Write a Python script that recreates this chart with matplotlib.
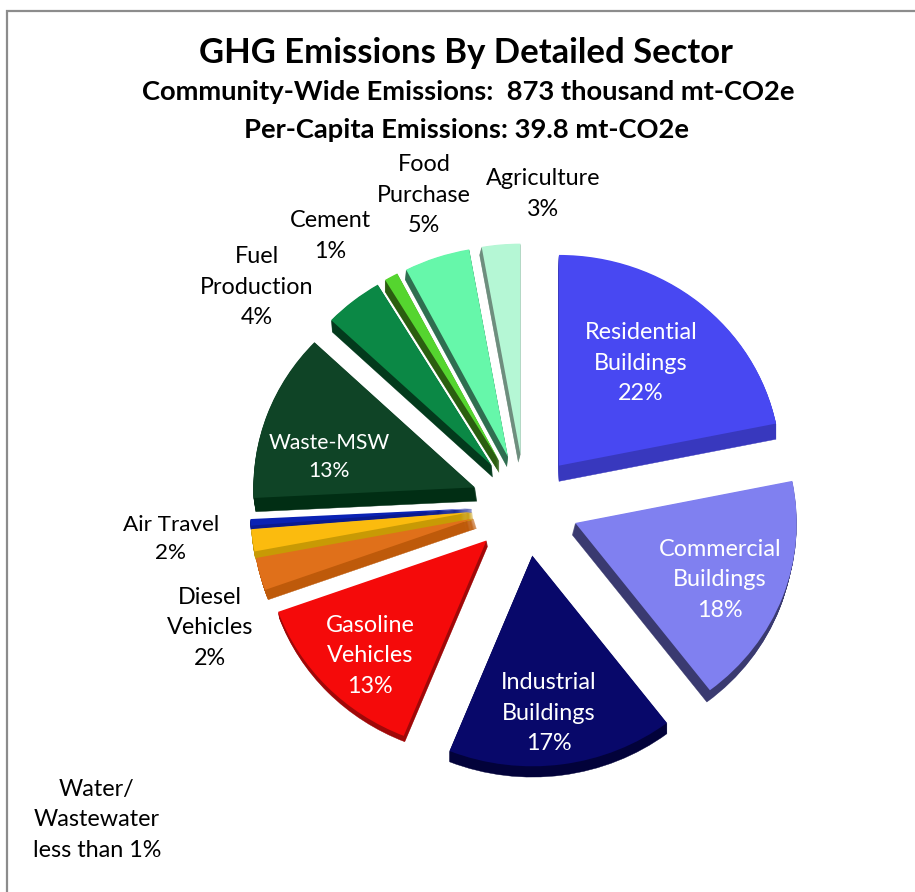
#!/usr/bin/env python3
"""GHG emissions by detailed sector, exploded pie with a fake 3D edge."""

import matplotlib
matplotlib.use("Agg")
import matplotlib.pyplot as plt
from matplotlib.patches import Wedge
from matplotlib.transforms import Affine2D

W, H = 915, 892

plt.rcParams["font.family"] = ["Lato", "DejaVu Sans"]

# ── Data ──
sectors = [
    "Residential Buildings", "Commercial Buildings", "Industrial Buildings",
    "Gasoline Vehicles", "Diesel Vehicles", "Air Travel", "Water/Wastewater",
    "Waste-MSW", "Fuel Production", "Cement", "Food Purchase", "Agriculture",
]
shares = [21.8, 17.8, 16.5, 13.4, 2.5, 1.7, 0.5, 12.9, 4.3, 1.0, 4.8, 2.8]

# ── Styles ──
face_colors = [
    "#4848F2", "#8080F0", "#08086A", "#F50A0A", "#E0701A", "#FBBB0E",
    "#0A22B4", "#0F4426", "#0B8845", "#55D52F", "#66F7AA", "#B5F7D5",
]
edge_colors = [
    "#3838BE", "#3A3A70", "#02023A", "#A00808", "#BE5A0A", "#C89A05",
    "#0A1A90", "#012E14", "#033A1C", "#2B5E10", "#2F6E50", "#6E8E7E",
]
# how far each slice's side is extruded, in pixels (x, y down)
depths = [
    (0, 16), (-3, 12), (0, 11), (1, 6), (3, 10), (1, 8),
    (0, 4), (2, 14), (1, 12), (0, 12), (-1, 10), (-2, 8),
]

# text, x, y (pixels from top-left), colour, font size
LABELS = [
    ("Residential\nBuildings\n22%", 641, 363, "white", 16.8),
    ("Commercial\nBuildings\n18%", 720, 580, "white", 16.8),
    ("Industrial\nBuildings\n17%", 549, 713, "white", 16.8),
    ("Gasoline\nVehicles\n13%", 370, 656, "white", 16.8),
    ("Waste-MSW\n13%", 329, 457, "white", 15.2),
    ("Air Travel\n2%", 171, 539, "black", 16.2),
    ("Diesel\nVehicles\n2%", 210, 628, "black", 16.8),
    ("Water/\nWastewater\nless than 1%", 97, 820, "black", 16.8),
    ("Fuel\nProduction\n4%", 257, 287, "black", 16.8),
    ("Cement\n1%", 330, 236, "black", 16.8),
    ("Food\nPurchase\n5%", 424, 195, "black", 16.8),
    ("Agriculture\n3%", 543, 194, "black", 16.8),
]


def main():
    fig = plt.figure(figsize=(W / 100, H / 100), dpi=100, facecolor="white")
    ax = fig.add_axes([0, 0, 1, 1])

    wedges, _ = ax.pie(
        shares, colors=face_colors, startangle=90, counterclock=False,
        explode=[52] * len(shares), center=(525, H - 505), radius=215,
        wedgeprops=dict(linewidth=0, zorder=5),
    )

    # the tilted 3D pie is a little wider than tall
    cx, cy = 521, H - 510
    squash = Affine2D().translate(-cx, -cy).scale(1.03, 0.98).translate(cx, cy) + ax.transData

    # side of each slice: stacked copies of the wedge in the darker tone
    for wedge, col, (dx, dy) in zip(wedges, edge_colors, depths):
        wedge.set_transform(squash)
        steps = max(abs(dx), abs(dy))
        for k in range(1, steps + 1):
            ax.add_patch(Wedge(
                (wedge.center[0] + dx * k / steps, wedge.center[1] - dy * k / steps),
                wedge.r, wedge.theta1, wedge.theta2,
                facecolor=col, edgecolor=col, linewidth=0.3, zorder=3,
                transform=squash,
            ))

    ax.set_xlim(0, W)
    ax.set_ylim(0, H)
    ax.set_aspect("auto")
    ax.axis("off")

    # chart frame, top and left only
    ax.plot([7, 7, W], [0, H - 11, H - 11], color="#8C8C8C", linewidth=1.6,
            solid_joinstyle="miter", zorder=1)

    for txt, x, y, col, size in LABELS:
        ax.text(x, H - y, txt, color=col, fontsize=size, ha="center",
                va="center", linespacing=1.56, zorder=8)

    ax.text(466, H - 53, "GHG Emissions By Detailed Sector", fontsize=24.9,
            fontweight="bold", ha="center", va="center")
    ax.text(468, H - 92, "Community-Wide Emissions:  873 thousand mt-CO2e",
            fontsize=19.7, fontweight="bold", ha="center", va="center")
    ax.text(467, H - 130, "Per-Capita Emissions: 39.8 mt-CO2e", fontsize=19.7,
            fontweight="bold", ha="center", va="center")

    fig.savefig("out.png", dpi=100, facecolor="white")
    plt.close(fig)


if __name__ == "__main__":
    main()
